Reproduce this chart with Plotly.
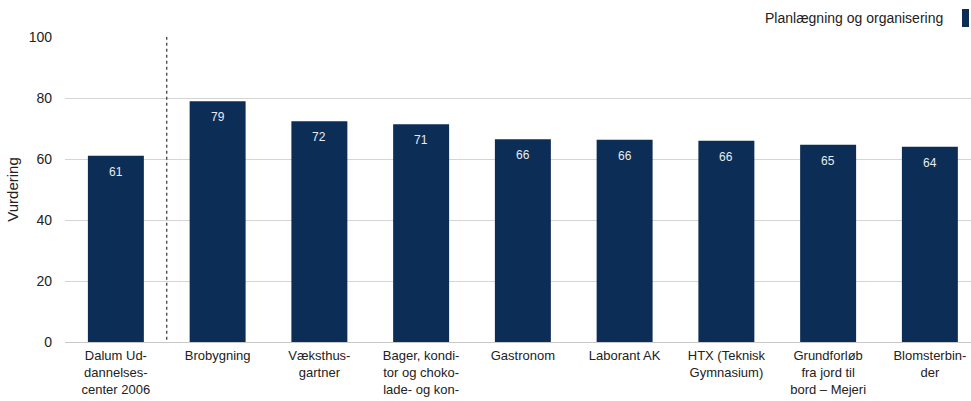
import plotly.graph_objects as go

categories = [
    "Dalum Ud-<br>dannelses-<br>center 2006",
    "Brobygning",
    "Væksthus-<br>gartner",
    "Bager, kondi-<br>tor og choko-<br>lade- og kon-",
    "Gastronom",
    "Laborant AK",
    "HTX (Teknisk<br>Gymnasium)",
    "Grundforløb<br>fra jord til<br>bord – Mejeri",
    "Blomsterbin-<br>der",
]
values = [61.1, 78.9, 72.4, 71.4, 66.5, 66.3, 66.0, 64.7, 64.0]
labels = [str(round(v)) for v in values]
series_name = "Planlægning og organisering"
y_ticks = [0, 20, 40, 60, 80, 100]

BAR = "#0c2d55"
FONT = "Liberation Sans"

W, H = 971, 401
L, T, B = 65, 37, 59
PW = W - L
PH = H - T - B

x = list(range(len(categories)))
fig = go.Figure()
fig.add_trace(go.Bar(
    x=x, y=values, width=0.55, marker_color=BAR, marker_line_width=0,
    name=series_name, showlegend=False, hoverinfo="skip",
))

for xi, v, t in zip(x, values, labels):
    fig.add_annotation(x=xi, y=v, text=t, showarrow=False, yshift=-16,
                       font=dict(family=FONT, size=12, color="#e8ecf2"),
                       xref="x", yref="y")

# dotted separator between first bar and the rest
fig.add_shape(type="line", x0=0.5, x1=0.5, y0=-1.2, y1=100, xref="x", yref="y",
              line=dict(color="#333333", width=1.2, dash="dot"))

# legend (text with colour block to the right)
fig.add_annotation(x=(945 - L) / PW, y=1 + (T - 18) / PH, xref="paper", yref="paper",
                   text=series_name, showarrow=False, xanchor="right", yanchor="middle",
                   font=dict(family=FONT, size=14, color="#222222"))
fig.add_shape(type="rect", xref="paper", yref="paper",
              xsizemode="pixel", ysizemode="pixel", xanchor=1, yanchor=1,
              x0=-9, x1=-2, y0=10, y1=28,
              fillcolor=BAR, line=dict(color=BAR, width=0))

span = PW / 101.75
fig.update_layout(
    width=W, height=H,
    margin=dict(l=L, r=0, t=T, b=B, autoexpand=False),
    paper_bgcolor="white", plot_bgcolor="white",
    font=dict(family=FONT, size=13, color="#222222"),
    xaxis=dict(
        range=[-0.5, -0.5 + span], tickmode="array", tickvals=x, ticktext=categories,
        showgrid=False, zeroline=False, showline=False, ticks="",
        ticklabelstandoff=4,
        tickfont=dict(family=FONT, size=13, color="#222222"), tickangle=0,
    ),
    yaxis=dict(
        range=[0, 100], tickvals=y_ticks, showgrid=True, gridcolor="#d4d4d4", gridwidth=1,
        zeroline=True, zerolinecolor="#c8c8c8", zerolinewidth=1, showline=False,
        ticks="", ticklabelstandoff=12,
        tickfont=dict(family=FONT, size=14, color="#222222"),
        title=dict(text="Vurdering", font=dict(family=FONT, size=15, color="#222222"), standoff=6),
    ),
)

fig.write_html(
    "out.html",
    config={"displayModeBar": False, "staticPlot": True},
    post_script="document.body.style.margin='0';document.body.style.overflow='hidden';",
)
